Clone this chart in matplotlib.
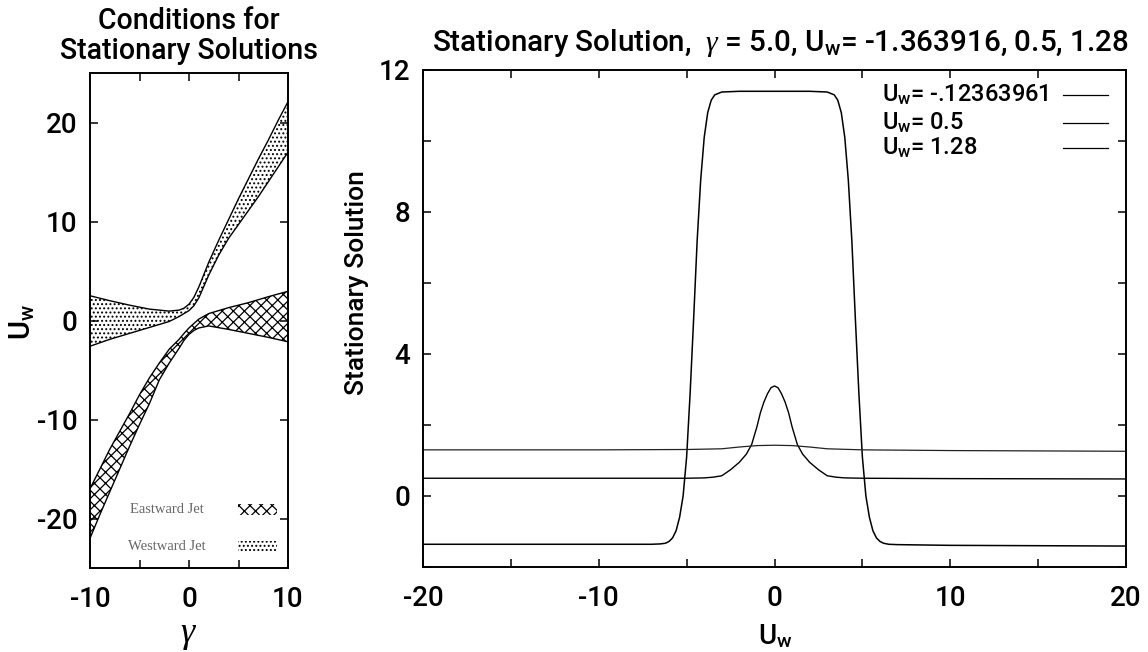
import matplotlib
matplotlib.use('Agg')
import matplotlib.pyplot as plt
from matplotlib import font_manager as fm
from matplotlib.patches import Rectangle
from matplotlib.lines import Line2D

# ---------------- data: left panel (gamma, U_w) bands ----------------
west_gamma = [-10, -8, -6, -4, -2, -1, -0.5, 0, 0.5, 1, 2, 3, 4, 5, 6, 7, 8, 9, 10]
west_upper = [2.5, 2.0, 1.55, 1.15, 0.95, 1.05, 1.25, 1.65, 2.35, 3.4, 5.9, 8.1, 10.2, 12.3, 14.3, 16.3, 18.2, 20.2, 22.1]
west_lower = [-2.6, -1.9, -1.3, -0.7, -0.1, 0.4, 0.7, 1.0, 1.5, 2.3, 4.6, 6.6, 8.3, 9.7, 11.1, 12.5, 14.0, 15.5, 17.0]

east_gamma = [-10, -9, -8, -7, -6, -5, -4, -3, -2, -1, -0.5, 0, 0.5, 1, 2, 4, 6, 8, 10]
east_upper = [-17.0, -15.0, -13.0, -11.2, -9.4, -7.5, -5.8, -4.3, -2.9, -1.9, -1.3, -0.75, -0.3, 0.15, 0.7, 1.3, 1.8, 2.4, 2.95]
east_lower = [-22.0, -19.6, -17.3, -15.0, -12.7, -10.5, -8.4, -6.0, -4.3, -2.8, -2.0, -1.4, -1.0, -0.75, -0.55, -0.9, -1.3, -1.7, -2.15]

left_legend_labels = ["Eastward Jet", "Westward Jet"]

# ---------------- data: right panel curves ----------------
big_x = [-20, -10, -7, -6.5, -6.2, -6.0, -5.8, -5.6, -5.4, -5.2, -5.0, -4.8, -4.6, -4.4, -4.2, -4.0,
         -3.8, -3.6, -3.4, -3.0, -2.0, 0, 2.0, 3.0, 3.4, 3.6, 3.8, 4.0, 4.2, 4.4, 4.6, 4.8, 5.0, 5.2,
         5.4, 5.6, 5.8, 6.0, 6.2, 6.5, 7, 10, 20]
big_y = [-1.36, -1.36, -1.36, -1.35, -1.33, -1.28, -1.18, -0.98, -0.6, 0.0, 1.1, 2.9, 5.0, 7.2, 8.9, 10.1,
         10.8, 11.15, 11.3, 11.38, 11.4, 11.4, 11.4, 11.38, 11.3, 11.15, 10.8, 10.1, 8.9, 7.2, 5.0, 2.9, 1.1, 0.0,
         -0.6, -0.98, -1.18, -1.28, -1.33, -1.36, -1.37, -1.39, -1.41]

mid_x = [-20, -10, -5, -4, -3.5, -3, -2.5, -2, -1.6, -1.3, -1.0, -0.8, -0.6, -0.4, -0.2, 0,
         0.2, 0.4, 0.6, 0.8, 1.0, 1.3, 1.6, 2, 2.5, 3, 3.5, 4, 5, 10, 20]
mid_y = [0.5, 0.5, 0.5, 0.51, 0.53, 0.57, 0.74, 0.95, 1.18, 1.45, 1.95, 2.35, 2.65, 2.88, 3.05, 3.1,
         3.05, 2.88, 2.65, 2.35, 1.95, 1.45, 1.18, 0.95, 0.74, 0.57, 0.53, 0.51, 0.5, 0.49, 0.48]

hi_x = [-20, -10, -5, -3, -2, -1, 0, 1, 2, 3, 5, 10, 20]
hi_y = [1.30, 1.30, 1.31, 1.33, 1.38, 1.42, 1.43, 1.42, 1.38, 1.33, 1.30, 1.28, 1.26]

legend_labels = ["U$_\\mathrm{w}$= -.12363961", "U$_\\mathrm{w}$= 0.5", "U$_\\mathrm{w}$= 1.28"]

right_title = "Stationary Solution,  $\\gamma$ = 5.0, U$_\\mathrm{w}$= -1.363916, 0.5, 1.28"
left_title = "Conditions for\nStationary Solutions"

# ---------------- fonts ----------------
names = {f.name for f in fm.fontManager.ttflist}
FAMILY = 'Roboto' if 'Roboto' in names else 'DejaVu Sans'

plt.rcParams['font.family'] = [FAMILY, 'DejaVu Sans']
plt.rcParams['font.weight'] = 'medium'
plt.rcParams['axes.unicode_minus'] = False
plt.rcParams['mathtext.fontset'] = 'custom'
plt.rcParams['mathtext.rm'] = FAMILY + ':medium'
plt.rcParams['mathtext.it'] = 'Liberation Serif:italic'
plt.rcParams['mathtext.bf'] = FAMILY + ':bold'
plt.rcParams['hatch.linewidth'] = 0.9

W, H = 1148, 652
fig = plt.figure(figsize=(W / 100, H / 100), dpi=100)


def rect(x0, y0, x1, y1):
    return [x0 / W, 1 - y1 / H, (x1 - x0) / W, (y1 - y0) / H]


axL = fig.add_axes(rect(90, 73, 288, 568))
axR = fig.add_axes(rect(423, 70, 1126, 567))

for ax in (axL, axR):
    for s in ax.spines.values():
        s.set_linewidth(1.4)
    ax.tick_params(direction='in', length=6, width=1.1, top=True, right=True,
                   labelsize=20, pad=9)

# ---- left panel ----
axL.fill_between(west_gamma, west_lower, west_upper, facecolor='white',
                 edgecolor='black', hatch='....', linewidth=1.0)
axL.fill_between(east_gamma, east_lower, east_upper, facecolor='white',
                 edgecolor='black', hatch='xxx', linewidth=1.0)
axL.set_xlim(-10, 10)
axL.set_ylim(-25, 25)
axL.set_xticks([-10, -5, 0, 5, 10])
axL.set_xticklabels(['-10', '', '0', '', '10'])
axL.set_yticks([-20, -10, 0, 10, 20])
axL.tick_params(axis='x', pad=13)

# legend inside left panel
leg_y = [-19.1, -22.8]
leg_hatch = ['xxx', '....']
for lab, yy, hh in zip(left_legend_labels, leg_y, leg_hatch):
    axL.text(-2.2, yy, lab, ha='center', va='center', fontsize=10.5,
             family='Liberation Serif', fontweight='normal', color='#666666')
    axL.add_patch(Rectangle((4.9, yy - 0.55), 4.0, 1.1, facecolor='white',
                            edgecolor='black', hatch=hh, linewidth=0))

axL.text(0.5, -0.135, '$\\gamma$', transform=axL.transAxes, ha='center',
         va='center', fontsize=26)
fig.text(22 / W, 1 - 322 / H, 'U$_\\mathrm{w}$', rotation=90, ha='center',
         va='center', fontsize=21)
tL = fig.text(189 / W, 1 - 36 / H, left_title, ha='center', va='center',
              fontsize=19, linespacing=1.05)

# ---- right panel ----
axR.plot(big_x, big_y, color='black', lw=1.1)
axR.plot(mid_x, mid_y, color='black', lw=1.0)
axR.plot(hi_x, hi_y, color='#222222', lw=0.9)
axR.set_xlim(-20, 20)
axR.set_ylim(-2, 12)
axR.set_xticks(range(-20, 21, 5))
axR.set_xticklabels(['-20', '', '-10', '', '0', '', '10', '', '20'])
axR.set_yticks(range(-2, 13, 2))
axR.set_yticklabels(['', '0', '', '4', '', '8', '', '12'])
axR.tick_params(axis='x', pad=13)

leg_rows = [0.950, 0.893, 0.843]
legend_texts = []
for lab, yy in zip(legend_labels, leg_rows):
    legend_texts.append(axR.text(0.653, yy, lab, transform=axR.transAxes, ha='left',
                                 va='center', fontsize=17))
    axR.add_line(Line2D([0.910, 0.975], [yy, yy], transform=axR.transAxes,
                        color='black', lw=0.9))

fig.text(775 / W, 1 - 636 / H, 'U$_\\mathrm{w}$', ha='center', va='center',
         fontsize=20)
fig.text(357 / W, 1 - 283 / H, 'Stationary Solution', rotation=90,
         ha='center', va='center', fontsize=19)
tR = fig.text(781 / W, 1 - 43 / H, right_title, ha='center', va='center',
              fontsize=20)

# keep texts close to their measured widths in the reference
fig.canvas.draw()
r = fig.canvas.get_renderer()
for t, target in ((tR, 697), (tL, 258), (legend_texts[0], 166)):
    w = t.get_window_extent(r).width
    if abs(w - target) > 0.03 * target:
        t.set_fontsize(min(max(t.get_fontsize() * target / w, 14), 23))
for t in legend_texts[1:]:
    t.set_fontsize(legend_texts[0].get_fontsize())

fig.savefig('out.png', dpi=100)
